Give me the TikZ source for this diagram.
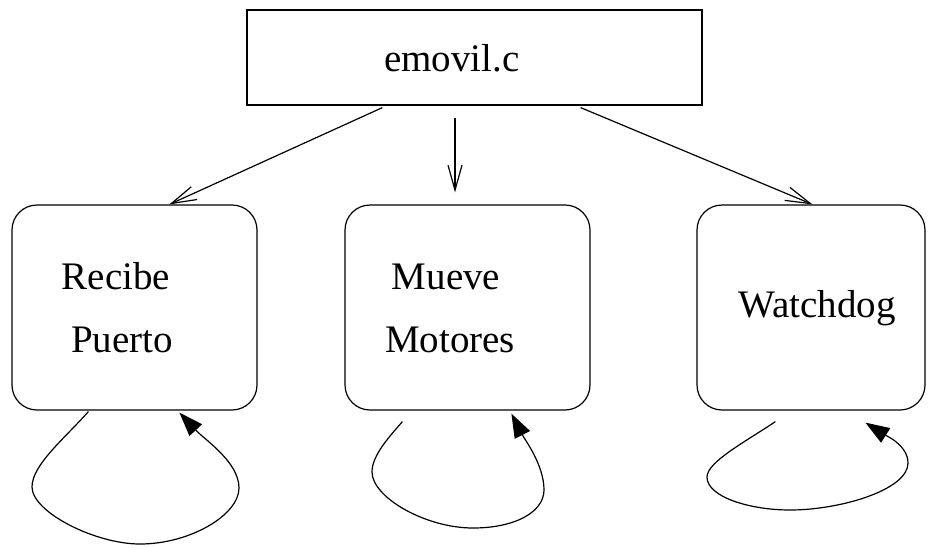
\documentclass[tikz,border=0pt]{standalone}
\usepackage{fontspec}
\setmainfont{Liberation Serif}
\usetikzlibrary{arrows.meta}

\tikzset{every picture/.style={line width=1.2pt}}
\tikzset{
proc/.style={draw, rounded corners=25pt, inner sep=0pt, minimum height=205pt},
label/.style={inner sep=0pt, anchor=base, font=\fontsize{39}{46}\selectfont},
stick/.style={-{Straight Barb[length=25pt,width=14pt]}},
loop/.style={-{Triangle[length=24pt,width=17pt]}}}

\begin{document}
\begin{tikzpicture}[x=1pt,y=1pt,yscale=-1,xscale=1]
\useasboundingbox (0,0) rectangle (937,547);

%Shape: Rectangle [id:emovil] 
\node [draw, inner sep=0pt, minimum width=455pt, minimum height=95pt] (emovil) at (474.5,57.5) {};
%Shape: Rounded Rect [id:recibe] 
\node [proc, minimum width=245pt] (recibe) at (134.5,307.5) {};
%Shape: Rounded Rect [id:mueve] 
\node [proc, minimum width=245pt] (mueve) at (467.5,307.5) {};
%Shape: Rounded Rect [id:watchdog] 
\node [proc, minimum width=228pt] (watchdog) at (811,307.5) {};

%Straight Lines [id:da1] 
\draw [stick] ([xshift=136pt,yshift=2pt]emovil.south west) -- ([xshift=158pt]recibe.north west) ;
%Straight Lines [id:da2] 
\draw [stick] ([xshift=-19.5pt,yshift=12pt]emovil.south) -- ([xshift=-12.5pt,yshift=-12pt]mueve.north) ;
%Straight Lines [id:da3] 
\draw [stick] ([xshift=-122pt,yshift=2pt]emovil.south east) -- ([xshift=116pt]watchdog.north west) ;

%Curve Lines [id:loop1] 
\draw [loop] ([xshift=77pt,yshift=1pt]recibe.south west) .. controls (64,439) and (32,465) .. (32,487) .. controls (32,512) and (95,544) .. (140,544) .. controls (190,544) and (239,515) .. (239,488) .. controls (239,462) and (205,440) .. ([xshift=168pt,yshift=2pt]recibe.south west) ;
%Curve Lines [id:loop2] 
\draw [loop] ([xshift=58pt,yshift=11pt]mueve.south west) .. controls (390,436) and (372,455) .. (372,472) .. controls (372,497) and (425,528) .. (473,528) .. controls (515,528) and (544,512) .. (544,490) .. controls (544,465) and (525,440) .. ([xshift=167pt,yshift=3pt]mueve.south west) ;
%Curve Lines [id:loop3] 
\draw [loop] ([xshift=79pt,yshift=11pt]watchdog.south west) .. controls (745,442) and (707,462) .. (707,477) .. controls (707,497) and (750,510) .. (790,510) .. controls (840,510) and (908,490) .. (908,463) .. controls (908,445) and (885,435) .. ([xshift=169pt,yshift=12pt]watchdog.south west) ;

% Text Node
\node [label] (t0) at (452,71) {emovil.c};
% Text Node
\node [label] (t1) at (116,289) {Recibe};
% Text Node
\node [label] (t2) at (122,352) {Puerto};
% Text Node
\node [label] (t3) at (446,289) {Mueve};
% Text Node
\node [label] (t4) at (450,352) {Motores};
% Text Node
\node [label] (t5) at (817,317) {Watchdog};

\end{tikzpicture}
\end{document}
